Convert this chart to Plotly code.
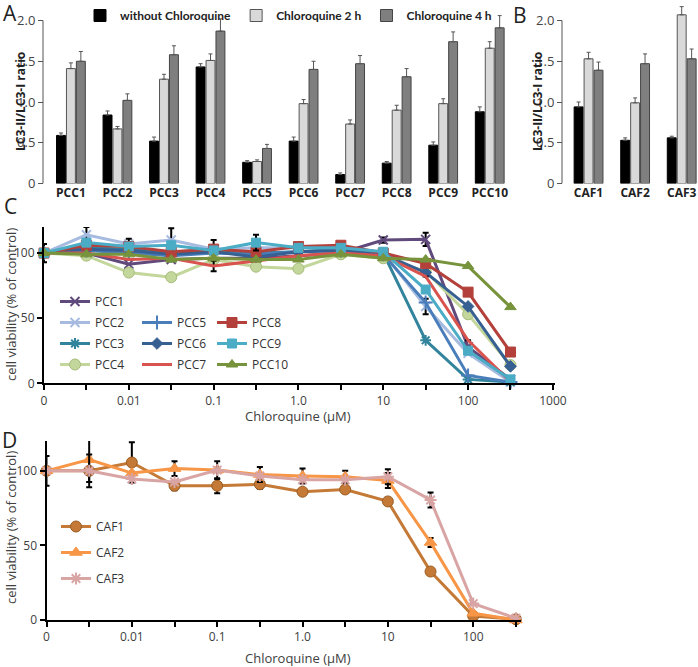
import plotly.graph_objects as go

W, H = 698, 667

# panel A: LC3-II/LC3-I ratio in PCC lines
pcc = ['PCC1', 'PCC2', 'PCC3', 'PCC4', 'PCC5', 'PCC6', 'PCC7', 'PCC8', 'PCC9', 'PCC10']
pcc_without = [0.59, 0.84, 0.52, 1.43, 0.26, 0.52, 0.11, 0.25, 0.47, 0.88]
pcc_2h = [1.41, 0.67, 1.28, 1.51, 0.27, 0.98, 0.73, 0.90, 0.98, 1.66]
pcc_4h = [1.50, 1.02, 1.58, 1.87, 0.43, 1.40, 1.47, 1.31, 1.74, 1.91]
pcc_err_without = [0.03, 0.05, 0.05, 0.04, 0.02, 0.05, 0.02, 0.02, 0.04, 0.06]
pcc_err_2h = [0.07, 0.03, 0.06, 0.08, 0.02, 0.05, 0.05, 0.06, 0.06, 0.08]
pcc_err_4h = [0.12, 0.08, 0.11, 0.15, 0.05, 0.10, 0.10, 0.10, 0.12, 0.15]

# panel B: same for CAF lines
caf = ['CAF1', 'CAF2', 'CAF3']
caf_without = [0.94, 0.53, 0.56]
caf_2h = [1.53, 0.99, 2.07]
caf_4h = [1.39, 1.47, 1.53]
caf_err_without = [0.06, 0.03, 0.02]
caf_err_2h = [0.08, 0.06, 0.10]
caf_err_4h = [0.10, 0.12, 0.12]

# panels C/D: viability vs chloroquine dose (uM)
doses = ['0', '0.003', '0.01', '0.03', '0.1', '0.3', '1', '3', '10', '30', '100', '300']
axis_doses = doses + ['1000']
dose_ticks = ['0', '', '0.01', '', '0.1', '', '1.0', '', '10', '', '100', '', '1000']

pcc1 = [100, 100, 91.5, 95, 96, 96, 98, 100, 110, 110.5, 28, 3]
pcc2 = [100, 114, 107, 110, 103, 104, 104, 104, 100, 59, 23, 1]
pcc3 = [100, 104, 103, 101, 102, 100, 101, 103, 100, 33, 3, 1]
pcc4 = [100, 98, 85, 81.5, 95, 89.5, 88, 99, 96, 86, 53, 14]
pcc5 = [100, 102, 100, 98, 100, 99, 101, 102, 99, 62, 6, 1]
pcc6 = [100, 103, 102, 99, 101, 97, 101, 102, 99, 85, 59, 13]
pcc7 = [100, 100, 95, 96, 90, 94, 98, 100, 98, 82, 33, 1]
pcc8 = [100, 106, 105, 101, 103, 101, 105, 106, 100, 92, 70, 24]
pcc9 = [100, 108, 105, 106, 102, 108, 104, 104, 101, 72, 25, 3]
pcc10 = [100, 99, 99, 95, 96, 95, 95, 99, 96, 95, 90, 58.5]

pcc1_err = [7, None, None, None, None, None, None, None, 2, 5, None, None]
pcc2_err = [None, 6, None, 9, None, None, None, None, None, 6, None, None]
pcc7_err = [None, None, None, None, 4, None, None, None, None, None, None, None]
pcc8_err = [None, None, 6, None, 7, None, None, None, None, None, None, None]
pcc9_err = [None, None, None, None, None, 6, None, None, None, None, None, None]

caf1 = [100, 100, 105.6, 90, 90, 91, 86, 87.5, 79.5, 32.5, 2.7, 0.5]
caf2 = [100, 107.5, 98.5, 101.5, 100.5, 97.5, 96.5, 96, 93.5, 52, 4.5, 0]
caf3 = [100, 100, 94.5, 92.5, 100.5, 96.5, 94, 94, 96, 80.5, 11, 1.2]

caf1_err = [10, None, 13.5, 3, 5, 3, None, None, None, None, None, None]
caf2_err = [None, 15, None, 5, None, 5, 5, 4, 5, 3, None, None]
caf3_err = [None, 11, None, None, 6, None, None, None, 5, 5, None, None]


def xd(a, b):
    return [a / W, b / W]


def yd(top, bottom):
    return [1 - bottom / H, 1 - top / H]


FONT = 'Open Sans'
fig = go.Figure()

bar_sets = [
    ('without Chloroquine', '#000000', '#000000', pcc_without, pcc_err_without, caf_without, caf_err_without),
    ('Chloroquine 2 h', '#d9d9d9', '#555555', pcc_2h, pcc_err_2h, caf_2h, caf_err_2h),
    ('Chloroquine 4 h', '#7f7f7f', '#444444', pcc_4h, pcc_err_4h, caf_4h, caf_err_4h),
]
for name, col, edge, yv, ev, cv, cev in bar_sets:
    fig.add_trace(go.Bar(x=pcc, y=yv, name=name, marker=dict(color=col, line=dict(color=edge, width=1)),
                         error_y=dict(type='data', array=ev, arrayminus=[0] * len(ev), symmetric=False,
                                      color='#555555', thickness=1, width=2),
                         xaxis='x', yaxis='y', legend='legend'))
    fig.add_trace(go.Bar(x=caf, y=cv, name=name, showlegend=False,
                         marker=dict(color=col, line=dict(color=edge, width=1)),
                         error_y=dict(type='data', array=cev, arrayminus=[0] * len(cev), symmetric=False,
                                      color='#555555', thickness=1, width=2),
                         xaxis='x2', yaxis='y2'))

# panel C lines
c_series = [
    ('PCC1', pcc1, pcc1_err, '#604a7b', 'x-thin-open', 9, 'legend2'),
    ('PCC2', pcc2, pcc2_err, '#a6bbdf', 'x-thin-open', 9, 'legend2'),
    ('PCC3', pcc3, None, '#31849b', 'asterisk-open', 9, 'legend2'),
    ('PCC4', pcc4, None, '#c3d69b', 'circle', 11, 'legend2'),
    ('PCC5', pcc5, None, '#4a7ebb', 'cross-thin-open', 10, 'legend3'),
    ('PCC6', pcc6, None, '#376092', 'diamond', 9, 'legend3'),
    ('PCC7', pcc7, pcc7_err, '#d9534f', None, 0, 'legend3'),
    ('PCC8', pcc8, pcc8_err, '#b3403a', 'square', 10, 'legend4'),
    ('PCC9', pcc9, pcc9_err, '#4bacc6', 'square', 9, 'legend4'),
    ('PCC10', pcc10, None, '#77933c', 'triangle-up', 10, 'legend4'),
]
for name, yv, ev, col, sym, size, leg in c_series:
    if sym is None:
        mode = 'lines'
        marker = None
    else:
        mode = 'lines+markers'
        if sym.endswith('open'):
            marker = dict(symbol=sym, size=size, color=col, line=dict(color=col, width=2))
        elif sym == 'circle':
            marker = dict(symbol=sym, size=size, color=col, line=dict(color='#a7bd7a', width=1))
        else:
            marker = dict(symbol=sym, size=size, color=col, line=dict(color=col, width=1))
    err = None
    if ev is not None:
        err = dict(type='data', array=ev, color='black', thickness=2, width=3)
    fig.add_trace(go.Scatter(x=doses, y=yv, name=name, mode=mode, line=dict(color=col, width=3),
                             marker=marker, error_y=err, cliponaxis=False,
                             xaxis='x3', yaxis='y3', legend=leg, legendgroup=name))

# panel D lines
d_series = [
    ('CAF1', caf1, caf1_err, '#c47a36', 'circle', 11),
    ('CAF2', caf2, caf2_err, '#f79646', 'triangle-up', 11),
    ('CAF3', caf3, caf3_err, '#d9a4a4', 'asterisk-open', 10),
]
for name, yv, ev, col, sym, size in d_series:
    if sym.endswith('open'):
        marker = dict(symbol=sym, size=size, color=col, line=dict(color=col, width=2))
    elif sym == 'circle':
        marker = dict(symbol=sym, size=size, color=col, line=dict(color='#9a5b22', width=1))
    else:
        marker = dict(symbol=sym, size=size, color=col, line=dict(color=col, width=1))
    fig.add_trace(go.Scatter(x=doses, y=yv, name=name, mode='lines+markers', line=dict(color=col, width=3),
                             marker=marker, cliponaxis=False,
                             error_y=dict(type='data', array=ev, color='black', thickness=2, width=3),
                             xaxis='x4', yaxis='y4', legend='legend5', legendgroup=name))

tick_font = dict(family=FONT, size=12, color='#404040')
bold_font = dict(family=FONT, size=12, color='#222222', weight='bold')

# bar panels: y range goes a bit above 2.0 so tall bars are not cut; axis line drawn as a shape
BAR_TOP = 2.2
bar_y = dict(range=[0, BAR_TOP], tickvals=[0, 0.5, 1.0, 1.5, 2.0], ticktext=['0', '0.5', '1.0', '1.5', '2.0'],
             showline=False, ticks='outside', ticklen=5, automargin=False,
             tickcolor='#555555', showgrid=False, zeroline=False,
             tickfont=dict(family=FONT, size=13, color='#444444'))
bar_x = dict(showline=False, showgrid=False, zeroline=False, ticks='', tickfont=bold_font, automargin=False)

line_y = dict(range=[0, 120], tickvals=[0, 50, 100], showline=True, linecolor='black', linewidth=2,
              ticks='outside', ticklen=5, tickwidth=2, tickcolor='black', showgrid=False,
              zeroline=False, tickfont=tick_font, automargin=False)
line_x = dict(type='category', categoryorder='array', showline=True, linecolor='black', linewidth=2,
              ticks='outside', ticklen=5, tickwidth=2, tickcolor='black', showgrid=False,
              tickfont=tick_font, automargin=False)

bar_bottom = 183.5
bar_top_px = bar_bottom - BAR_TOP * 81.5

fig.update_layout(
    width=W, height=H, margin=dict(l=0, r=0, t=0, b=0, autoexpand=False),
    paper_bgcolor='white', plot_bgcolor='rgba(0,0,0,0)',
    barmode='group', bargap=0.36, bargroupgap=0.1,
    font=dict(family=FONT),
    xaxis=dict(domain=xd(43, 513), range=[-0.6, 9.5], anchor='y', **bar_x),
    yaxis=dict(domain=yd(bar_top_px, bar_bottom), anchor='free', position=43 / W, **bar_y),
    xaxis2=dict(domain=xd(562, 698), range=[-0.57, 2.35], anchor='y2', **bar_x),
    yaxis2=dict(domain=yd(bar_top_px, bar_bottom), anchor='free', position=562 / W, **bar_y),
    xaxis3=dict(domain=xd(44, 555), range=[0, 12.05], categoryarray=axis_doses,
                tickvals=axis_doses, ticktext=dose_ticks, anchor='y3', **line_x),
    yaxis3=dict(domain=yd(227, 383.3), anchor='x3', **line_y),
    xaxis4=dict(domain=xd(46.5, 521), range=[0, 11.12], categoryarray=doses,
                tickvals=doses, ticktext=dose_ticks[:12], anchor='y4', **line_x),
    yaxis4=dict(domain=yd(441, 620), anchor='x4', **line_y),
    legend=dict(orientation='h', x=80 / W, y=1 - 1 / H, xanchor='left', yanchor='top',
                font=dict(family='Lato', size=12, color='#222222', weight='bold'),
                bgcolor='rgba(0,0,0,0)'),
    legend2=dict(x=55 / W, y=1 - 287 / H, xanchor='left', yanchor='top', tracegroupgap=2,
                 font=dict(family=FONT, size=12, color='#333333'), bgcolor='rgba(0,0,0,0)'),
    legend3=dict(x=137 / W, y=1 - 308 / H, xanchor='left', yanchor='top', tracegroupgap=2,
                 font=dict(family=FONT, size=12, color='#333333'), bgcolor='rgba(0,0,0,0)'),
    legend4=dict(x=212 / W, y=1 - 308 / H, xanchor='left', yanchor='top', tracegroupgap=2,
                 font=dict(family=FONT, size=12, color='#333333'), bgcolor='rgba(0,0,0,0)'),
    legend5=dict(x=56 / W, y=1 - 512 / H, xanchor='left', yanchor='top', tracegroupgap=7,
                 font=dict(family=FONT, size=12, color='#333333'), bgcolor='rgba(0,0,0,0)'),
)

# y axis lines of the bar panels (0 to 2.0 only)
for xr, yr in (('x domain', 'y'), ('x2 domain', 'y2')):
    fig.add_shape(type='line', xref=xr, yref=yr, x0=0, x1=0, y0=0, y1=2.0,
                  line=dict(color='#555555', width=1))

annots = [
    ('A', 10, 13),
    ('B', 520, 15),
    ('C', 10, 206),
    ('D', 9, 440),
]
for txt, x, y in annots:
    fig.add_annotation(text=txt, x=x / W, y=1 - y / H, xref='paper', yref='paper', showarrow=False,
                       xanchor='center', yanchor='middle', font=dict(family=FONT, size=21, color='#222222'))

titles = [
    ('LC3-II/LC3-I ratio', 20, 102, -90, True),
    ('LC3-II/LC3-I ratio', 537, 102, -90, True),
    ('cell viability (% of control)', 11, 305, -90, False),
    ('cell viability (% of control)', 11, 528, -90, False),
    ('Chloroquine (\u03bcM)', 298, 416, 0, False),
    ('Chloroquine (\u03bcM)', 298, 658, 0, False),
]
for txt, x, y, ang, bold in titles:
    fnt = dict(family=FONT, size=12 if bold else 13, color='#222222' if bold else '#404040')
    if bold:
        fnt['weight'] = 'bold'
    fig.add_annotation(text=txt, x=x / W, y=1 - y / H, xref='paper', yref='paper', showarrow=False,
                       textangle=ang, xanchor='center', yanchor='middle', font=fnt)

# the page body has a default 8px margin; drop it so the figure fills the window
fig.write_html('out.html', config={'displayModeBar': False},
               post_script="document.body.style.margin='0';")
